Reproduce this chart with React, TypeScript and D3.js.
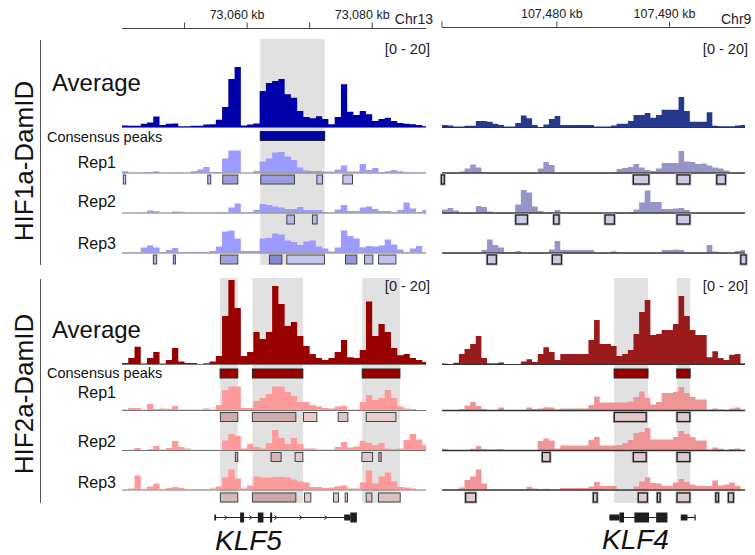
import React, { useRef, useEffect } from "react";
import * as d3 from "d3";

const W = 755;
const H = 555;
const FONT = "'Liberation Sans', Arial, Helvetica, sans-serif";

// genomic windows in kb, binned signal starts at window start
const klf5Window = [73040, 73088.6];
const klf4Window = [107469.8, 107496.7];
const klf5Bin = 1;
const klf4Bin = 0.5;

const klf5Ticks = [73050, 73060, 73070, 73080];
const klf5TickLabels = [73060, 73080];
const klf4Ticks = [107480, 107490];
const klf4TickLabels = [107480, 107490];
const chromNames = ["Chr13", "Chr9"];
const rangeLabel = "[0 - 20]";
const groupNames = ["HIF1a-DamID", "HIF2a-DamID"];
const repNames = ["Rep1", "Rep2", "Rep3"];
const geneNames = ["KLF5", "KLF4"];

// ---- HIF1a signal ----
const hif1Klf5Avg = [0.4, 0.3, 0.3, 0.8, 1.1, 2.6, 0.5, 0.8, 0.9, 0.2, 0.2, 0.3, 0.3, 0.6, 0.7, 1.8, 5, 12, 15, 0.4, 0.6, 0.9, 9, 11, 11.5, 12, 8.2, 7.3, 4, 2.5, 2.2, 2.7, 2, 0.7, 2.5, 10.7, 3.8, 3, 4, 3.2, 1.5, 2, 2.3, 1.5, 1, 0.8, 0.7, 0.5, 0.2];
const hif1Klf5Rep1 = [0.6, 0, 0, 0.1, 0.2, 0.6, 0, 0, 0.1, 0, 0, 0.6, 1.5, 2.7, 0.3, 0.3, 7, 11, 11, 0, 0, 0.7, 5.5, 7, 10, 10.3, 8, 6.3, 2.5, 1, 0.7, 0.7, 0.5, 0.5, 1.5, 3.5, 0.5, 0.5, 4.3, 1.3, 2.3, 0.2, 0.6, 1.2, 0.6, 0.2, 0.1, 0.1, 0.1];
const hif1Klf5Rep2 = [0, 0, 0, 0.1, 1, 0.6, 0, 0, 0.5, 0.4, 0, 0.1, 0.1, 0.1, 0.1, 0.1, 0.1, 2.5, 4.5, 0.1, 0.3, 1.3, 4.3, 3.8, 3, 2.5, 1.8, 1.8, 2.7, 1.3, 1.3, 1.3, 0.3, 0.1, 1.5, 3.8, 0.8, 0.8, 2.5, 3, 1.8, 0.8, 0.8, 0.2, 1.2, 5, 2, 0.3, 1.3];
const hif1Klf5Rep3 = [0.1, 0.1, 0.1, 2.5, 3.5, 2.5, 0.2, 1.2, 2.2, 0.3, 0.3, 0.3, 0.3, 0.3, 0.8, 3, 10.5, 11, 7, 0.7, 0.7, 0.7, 7, 7.2, 9.5, 9, 6, 5.2, 3.8, 5.5, 6, 3, 2, 0.5, 2.5, 11, 8.3, 7, 2.6, 3.2, 3, 3.5, 6.5, 4, 1.5, 0.2, 2, 3.3, 0.1];
const hif1Klf4Avg = [0.5, 0.4, 0.15, 0.15, 0.3, 0.3, 1.5, 1.5, 1.3, 0.8, 0.5, 0.1, 0.1, 1, 2.9, 2.2, 0.5, 0, 0.6, 2, 2.75, 0.5, 0.5, 0.5, 0.5, 0.5, 0.5, 0.1, 0.1, 0.1, 0.4, 0.8, 0.8, 1.5, 3, 3, 3.5, 2.3, 3, 4.3, 4.3, 4.3, 7.5, 4, 1.3, 1.3, 1.3, 3.7, 0.3, 0.2, 0.2, 0.2, 0.4, 0.5];
const hif1Klf4Rep1 = [0.3, 0, 0, 0.5, 2, 4, 2.5, 0.3, 0, 0, 0, 0, 0, 0, 0, 0, 0, 2, 5.2, 3.7, 0, 0, 0, 0, 0, 0, 0, 0, 0, 0, 0.2, 1.8, 2.2, 2.7, 4.2, 2.5, 1.2, 0.7, 2, 4.7, 4.7, 4.7, 10.7, 5.5, 5.2, 4.2, 4.5, 3.5, 2.5, 2, 1, 0, 0, 0];
const hif1Klf4Rep2 = [1.5, 2.2, 1, 0, 0, 0, 3.2, 2.7, 0.5, 0, 0, 0, 0, 4, 11.2, 10, 3, 0.7, 0, 0.3, 1.2, 0, 0, 0, 0, 0, 0, 0, 0, 0, 0, 0, 0, 0.3, 1.5, 5, 11, 5.2, 5.2, 1.7, 1.7, 2, 2.3, 1.2, 0, 0, 0, 0, 0, 0, 0, 0, 0, 0];
const hif1Klf4Rep3 = [0, 0, 0, 0, 0, 0, 0, 1.2, 6.5, 3.7, 2.5, 0.1, 0.3, 0.7, 0, 0, 0, 0, 0, 1.5, 5.7, 1.2, 1.2, 1.2, 1.2, 1.2, 1.2, 0, 0, 0, 0.6, 0.2, 0, 0, 0, 0, 0, 0, 0, 1.2, 1.2, 1.5, 1.2, 0, 0, 0, 0, 3.7, 0.5, 0, 0, 0, 0.8, 1.2];

// ---- HIF2a signal ----
const hif2Klf5Avg = [0.25, 1.5, 4.3, 0.1, 1.5, 3, 0.1, 1, 4, 0.6, 0.25, 0.25, 0, 0.2, 0.6, 2, 12, 21, 14, 2, 3, 8, 6.25, 8, 19.5, 15, 9.5, 10.5, 7, 4.5, 2.5, 1.5, 1, 1.5, 3, 6, 1.7, 1.5, 3.5, 15.6, 7, 10, 8, 4, 2.2, 2.5, 1.5, 1, 0.5];
const hif2Klf5Rep1 = [0.2, 1, 1, 0.1, 3, 0.5, 0.8, 0.6, 2, 0.2, 0.2, 0.2, 0.2, 0.7, 0.3, 2.5, 10, 11.7, 11.7, 1, 1, 4.5, 6, 8, 11.7, 11.7, 9, 7, 4, 4, 2.5, 1.7, 1, 0.8, 1.8, 2, 0.3, 0.3, 4, 7.5, 5, 6, 10, 6, 1.7, 0.8, 0.5, 0, 0];
const hif2Klf5Rep2 = [0, 0.1, 1, 0, 0.5, 2, 0.2, 1, 4.5, 1.5, 0.8, 0.1, 0.1, 0.1, 0.1, 0.1, 4.8, 8, 7, 0.8, 3, 1.5, 0.8, 3.5, 10, 6, 3, 6, 3, 0.8, 0.8, 0.3, 0.3, 0.3, 1.5, 4, 1.2, 1.8, 4.5, 3.5, 2.5, 3.5, 0.8, 0.5, 0.8, 5, 8, 5.3, 2.5];
const hif2Klf5Rep3 = [0, 0.5, 7, 0.1, 1.5, 3, 0.1, 0.8, 1.3, 0.7, 0.1, 0.1, 0.1, 0.1, 0.5, 1.5, 6, 10, 5.5, 0.5, 2, 6.5, 6, 6, 6.3, 6.3, 6, 5, 4, 3.5, 1.3, 1.3, 0.8, 1, 1.6, 2, 0.5, 0.5, 3.5, 9.5, 3, 6.5, 8.5, 4, 1.3, 1, 0.5, 0, 0];
const hif2Klf4Avg = [0.1, 0, 0.3, 2.5, 3.75, 5, 7, 1.5, 0.2, 0.2, 0.4, 0, 0, 0, 0.6, 1.2, 0.5, 2.5, 4.2, 3, 1, 2.5, 2.5, 2.5, 2.5, 2.5, 6, 11, 5, 5, 4.5, 2, 2.5, 3.5, 7.5, 13, 16, 7.25, 7.5, 8.5, 8.5, 10, 17, 12, 8.5, 7.25, 7.25, 1.7, 3.2, 1.5, 1, 2.3, 2.5, 0.2];
const hif2Klf4Rep1 = [0, 0, 0, 0.5, 2.3, 4, 2, 0.4, 0, 0, 1.2, 0, 0, 0, 0, 1.3, 0.5, 0.8, 1.4, 1.2, 0.3, 0.8, 0.8, 0.8, 0.8, 0.8, 2.5, 6.8, 3.8, 3.8, 3.8, 3.8, 3.8, 4.2, 6.5, 9.3, 6, 2.8, 4, 8.5, 8.5, 9, 11.5, 8.5, 6.5, 5.3, 5.3, 0.2, 0.8, 0.3, 0, 0.8, 1.3, 0];
const hif2Klf4Rep2 = [0.6, 0, 0, 0, 0, 0.6, 2, 0.5, 0.2, 0.2, 0.5, 0, 0, 0, 0, 0, 0, 4.5, 5.8, 4.8, 0.8, 2.3, 2.3, 2.3, 2.3, 2.3, 5, 6.5, 2.3, 2.3, 2.3, 2.5, 3.5, 5, 8.5, 9, 11, 5.2, 5.2, 5.2, 5.2, 6.5, 9.5, 8, 6.5, 4.8, 4.8, 0.2, 1.2, 0.6, 0, 0.5, 0.7, 0];
const hif2Klf4Rep3 = [0, 0, 0.3, 1, 4.8, 6.5, 10, 3, 0, 0, 0, 0, 0.2, 0.3, 0.2, 1.2, 0.5, 0.3, 0.4, 0, 0, 0.8, 0.8, 0.8, 0.8, 0.8, 1.5, 3.8, 1.8, 1.8, 1.8, 0, 0, 0, 1.5, 4, 6, 3.3, 3, 1.8, 1.8, 3.5, 5.3, 3.7, 2.5, 1.8, 1.8, 1.8, 4.5, 2, 2.5, 3.5, 1.8, 0];

// ---- called peaks [start kb, end kb, score] ----
const hif1Klf5Peaks = [
  [[73040.21, 73040.59, 0.2], [73053.71, 73054.19, 0.3], [73056.11, 73058.51, 0.6], [73062.19, 73067.57, 0.6], [73071.15, 73072.05, 0.3], [73075.31, 73076.85, 0.2]],
  [[73066.35, 73067.57, 0.35], [73070.45, 73071.2, 0.35]],
  [[73045.01, 73045.55, 0.4], [73048.21, 73048.53, 0.4], [73055.73, 73058.51, 0.55], [73063.57, 73065.55, 0.8], [73066.35, 73072.37, 0.2], [73075.73, 73077.55, 0.65], [73078.77, 73080.11, 0.3], [73081.01, 73083.79, 0.25]],
];
const hif1Klf4Peaks = [
  [[107469.75, 107470.0, 0.3], [107486.79, 107488.16, 0.3], [107490.67, 107491.8, 0.3], [107494.2, 107494.96, 0.3]],
  [[107476.35, 107477.38, 0.3], [107479.72, 107480.19, 0.3], [107484.28, 107485.1, 0.3], [107490.67, 107491.8, 0.3]],
  [[107473.82, 107474.62, 0.3], [107479.6, 107480.4, 0.3], [107496.33, 107496.8, 0.3]],
];
const hif2Klf5Peaks = [
  [[73055.73, 73058.51, 0.6], [73060.85, 73067.79, 0.6], [73069.01, 73071.15, 0.2], [73074.56, 73076.11, 0.3], [73079.04, 73083.79, 0.2]],
  [[73058.13, 73058.51, 0.6], [73063.84, 73065.44, 0.5], [73067.68, 73068.91, 0.25], [73078.35, 73080.05, 0.25], [73081.07, 73081.44, 0.6]],
  [[73055.73, 73058.51, 0.45], [73060.85, 73067.79, 0.65], [73069.17, 73070.19, 0.2], [73073.81, 73074.61, 0.25], [73075.68, 73076.05, 0.3], [73079.04, 73079.95, 0.35], [73081.01, 73084.48, 0.35]],
];
const hif2Klf4Peaks = [
  [[107485.1, 107487.92, 0.3], [107490.67, 107491.8, 0.3]],
  [[107478.71, 107479.39, 0.3], [107486.79, 107487.92, 0.3], [107490.67, 107491.8, 0.3]],
  [[107471.9, 107472.79, 0.3], [107483.24, 107483.57, 0.3], [107487.23, 107488.03, 0.3], [107488.92, 107489.16, 0.3], [107490.67, 107491.8, 0.3], [107494.11, 107494.34, 0.3], [107495.23, 107495.67, 0.3]],
];

// consensus peaks (also shaded)
const hif1Klf5Consensus = [[73062.1, 73072.4]];
const hif1Klf4Consensus: number[][] = [];
const hif2Klf5Consensus = [[73055.68, 73058.51], [73060.85, 73068.91], [73078.4, 73084.43]];
const hif2Klf4Consensus = [[107485.08, 107488.09], [107490.64, 107491.83]];

// gene models: exons [start kb, end kb, coding 1 / utr 0]
const klf5Span = [73054.77, 73077.55];
const klf5Exons = [[73054.77, 73055.04, 0], [73058.88, 73059.52, 1], [73061.71, 73062.61, 1], [73063.68, 73064.0, 1], [73075.52, 73076.5, 0], [73076.5, 73077.55, 1]];
const klf4Spans = [[107484.66, 107489.81], [107491.0, 107492.27]];
const klf4Exons = [[107484.66, 107485.55, 0], [107485.55, 107485.96, 1], [107486.88, 107488.18, 1], [107488.81, 107489.81, 1], [107491.0, 107491.59, 0]];

export default function App() {
  const svgRef = useRef<SVGSVGElement>(null);

  useEffect(() => {
    if (!svgRef.current) return;
    const svg = d3.select(svgRef.current);
    svg.selectAll("*").remove();

    const panels = [
      { window: klf5Window, range: [122, 426], bin: klf5Bin, ticks: klf5Ticks, tickLabels: klf5TickLabels, axisY: 28.5, labelDx: -10, endCap: false },
      { window: klf4Window, range: [442, 745], bin: klf4Bin, ticks: klf4Ticks, tickLabels: klf4TickLabels, axisY: 27.5, labelDx: -5, endCap: true },
    ].map((p) => ({ ...p, x: d3.scaleLinear().domain(p.window).range(p.range) }));

    const groups = [
      {
        name: groupNames[0], top: 39, bottom: 265, labelY: 161,
        avgBase: 127, avgLabelY: 91, consY: 131.5, consLabelY: 142, rangeY: 54,
        repBase: [172.5, 212.5, 252.5], repLabelY: [168, 207, 249], boxY: [175, 215, 255],
        avg: [hif1Klf5Avg, hif1Klf4Avg],
        reps: [[hif1Klf5Rep1, hif1Klf5Rep2, hif1Klf5Rep3], [hif1Klf4Rep1, hif1Klf4Rep2, hif1Klf4Rep3]],
        peaks: [hif1Klf5Peaks, hif1Klf4Peaks],
        consensus: [hif1Klf5Consensus, hif1Klf4Consensus],
        shade: [true, false],
        avgColor: ["#0000aa", "#27398c"], repColor: ["#9c9cff", "#9595c8"],
        boxLo: ["#dcdcf8", "#cbcbe8"], boxHi: ["#7070d0", "#cbcbe8"],
      },
      {
        name: groupNames[1], top: 278, bottom: 503, labelY: 394,
        avgBase: 364, avgLabelY: 338, consY: 369, consLabelY: 378, rangeY: 291,
        repBase: [410, 450, 489.5], repLabelY: [398, 447, 488], boxY: [412.5, 452.5, 493],
        avg: [hif2Klf5Avg, hif2Klf4Avg],
        reps: [[hif2Klf5Rep1, hif2Klf5Rep2, hif2Klf5Rep3], [hif2Klf4Rep1, hif2Klf4Rep2, hif2Klf4Rep3]],
        peaks: [hif2Klf5Peaks, hif2Klf4Peaks],
        consensus: [hif2Klf5Consensus, hif2Klf4Consensus],
        shade: [true, true],
        avgColor: ["#990000", "#9a1b1b"], repColor: ["#ff9a9a", "#ef9598"],
        boxLo: ["#eedcdc", "#dfc9c9"], boxHi: ["#b98c8c", "#dfc9c9"],
      },
    ];

    const avgY = d3.scaleLinear().domain([0, 20]).range([0, 80]);
    const repY = d3.scaleLinear().domain([0, 20]).range([0, 40]);

    // Genome axes
    panels.forEach((p, pi) => {
      const ax = svg.append("g").attr("transform", `translate(0,${p.axisY})`);
      ax.append("line").attr("x1", p.range[0]).attr("x2", p.range[1])
        .attr("stroke", "#444").attr("stroke-width", 1);
      ax.selectAll(".tick").data(p.ticks).enter().append("line")
        .attr("x1", (d: number) => p.x(d)).attr("x2", (d: number) => p.x(d))
        .attr("y1", -6).attr("y2", 0).attr("stroke", "#444");
      if (p.endCap) {
        ax.append("line").attr("x1", p.range[0]).attr("x2", p.range[0])
          .attr("y1", -6).attr("y2", 0).attr("stroke", "#444");
      }
      ax.selectAll(".lab").data(p.tickLabels).enter().append("text")
        .attr("x", (d: number) => p.x(d) + p.labelDx).attr("y", -10)
        .attr("text-anchor", "middle").attr("font-family", FONT).attr("font-size", 12.5)
        .attr("fill", "#222").text((d: number) => `${d3.format(",")(d)} kb`);
      svg.append("text")
        .attr("x", pi === 0 ? 433 : 721).attr("y", 24)
        .attr("text-anchor", pi === 0 ? "end" : "start")
        .attr("font-family", FONT).attr("font-size", 14).attr("fill", "#222")
        .text(chromNames[pi]);
    });

    groups.forEach((g) => {
      // group label + bracket line
      svg.append("line").attr("x1", 40.5).attr("x2", 40.5).attr("y1", g.top + 1).attr("y2", g.bottom)
        .attr("stroke", "#555").attr("stroke-width", 1);
      svg.append("text").attr("transform", `translate(33,${g.labelY}) rotate(-90)`)
        .attr("text-anchor", "middle").attr("font-family", FONT).attr("font-size", 26)
        .attr("fill", "#111").text(g.name);
      svg.append("text").attr("x", 52).attr("y", g.avgLabelY)
        .attr("font-family", FONT).attr("font-size", 24).attr("fill", "#111").text("Average");
      svg.append("text").attr("x", 47).attr("y", g.consLabelY)
        .attr("font-family", FONT).attr("font-size", 14.5).attr("fill", "#111").text("Consensus peaks");
      repNames.forEach((r, ri) => {
        svg.append("text").attr("x", 116).attr("y", g.repLabelY[ri]).attr("text-anchor", "end")
          .attr("font-family", FONT).attr("font-size", 16).attr("fill", "#111").text(r);
      });

      panels.forEach((p, pi) => {
        const x = p.x;
        const layer = svg.append("g");

        // shaded consensus regions
        if (g.shade[pi]) {
          layer.selectAll(".shade").data(g.consensus[pi]).enter().append("rect")
            .attr("x", (d: number[]) => x(d[0])).attr("width", (d: number[]) => x(d[1]) - x(d[0]))
            .attr("y", g.top).attr("height", g.bottom - g.top).attr("fill", "#e1e1e1");
        }

        const stepPath = (values: number[], base: number, ys: d3.ScaleLinear<number, number>) => {
          const pts = values.concat([values[values.length - 1]]);
          return d3.area<number>()
            .x((_d, i) => x(Math.min(p.window[0] + i * p.bin, p.window[1])))
            .y0(base)
            .y1((d) => base - ys(d))
            .curve(d3.curveStepAfter)(pts);
        };

        // average track
        layer.append("path").attr("d", stepPath(g.avg[pi], g.avgBase, avgY)).attr("fill", g.avgColor[pi]);
        layer.append("line").attr("x1", p.range[0]).attr("x2", p.range[1])
          .attr("y1", g.avgBase + 0.5).attr("y2", g.avgBase + 0.5)
          .attr("stroke", pi === 0 ? "#555" : "#333").attr("stroke-width", pi === 0 ? 0.8 : 1.2);
        layer.append("text").attr("x", pi === 0 ? 430 : 748).attr("y", g.rangeY).attr("text-anchor", "end")
          .attr("font-family", FONT).attr("font-size", 14.5).attr("fill", "#222").text(rangeLabel);

        // consensus bars
        layer.selectAll(".cons").data(g.consensus[pi]).enter().append("rect")
          .attr("x", (d: number[]) => x(d[0])).attr("width", (d: number[]) => x(d[1]) - x(d[0]))
          .attr("y", g.consY).attr("height", 9)
          .attr("fill", g.avgColor[0]).attr("stroke", "#222").attr("stroke-width", 1);

        // replicate tracks
        const boxColor = d3.scaleLinear<string>().domain([0, 1]).range([g.boxLo[pi], g.boxHi[pi]])
          .interpolate(d3.interpolateRgb);
        g.reps[pi].forEach((vals, ri) => {
          const base = g.repBase[ri];
          layer.append("path").attr("d", stepPath(vals, base, repY)).attr("fill", g.repColor[pi]);
          layer.append("line").attr("x1", p.range[0]).attr("x2", p.range[1])
            .attr("y1", base + 0.5).attr("y2", base + 0.5)
            .attr("stroke", pi === 0 ? "#777" : "#333").attr("stroke-width", pi === 0 ? 1 : 1.4);

          const boxes = layer.selectAll(`.box${ri}`).data(g.peaks[pi][ri]).enter();
          if (pi === 1) {
            boxes.append("rect")
              .attr("x", (d: number[]) => x(d[0])).attr("width", (d: number[]) => Math.max(2, x(d[1]) - x(d[0])))
              .attr("y", g.boxY[ri]).attr("height", 9)
              .attr("fill", "none").attr("stroke", "#b0b0b0").attr("stroke-width", 3);
          }
          layer.selectAll(`.boxf${ri}`).data(g.peaks[pi][ri]).enter().append("rect")
            .attr("x", (d: number[]) => x(d[0])).attr("width", (d: number[]) => Math.max(2, x(d[1]) - x(d[0])))
            .attr("y", g.boxY[ri]).attr("height", 9)
            .attr("fill", (d: number[]) => boxColor(d[2]))
            .attr("stroke", pi === 0 ? "#444" : "#222").attr("stroke-width", pi === 0 ? 1 : 1.3);
        });
      });
    });

    // gene models
    const geneY = 517.5;
    const drawGene = (x: d3.ScaleLinear<number, number>, spans: number[][], exons: number[][], arrows: boolean) => {
      const gg = svg.append("g");
      spans.forEach((s) => {
        gg.append("line").attr("x1", x(s[0])).attr("x2", x(s[1])).attr("y1", geneY).attr("y2", geneY)
          .attr("stroke", "#222").attr("stroke-width", 1.2);
        if (arrows) {
          const x0 = x(s[0]);
          const x1 = x(s[1]);
          for (let px = x0 + 12; px < x1 - 6; px += 25) {
            const inExon = exons.some((e) => px > x(e[0]) - 3 && px < x(e[1]) + 3);
            if (inExon) continue;
            gg.append("path").attr("d", `M${px - 2},${geneY - 2.2}L${px + 0.5},${geneY}L${px - 2},${geneY + 2.2}`)
              .attr("fill", "none").attr("stroke", "#222").attr("stroke-width", 1);
          }
        }
      });
      gg.selectAll(".ex").data(exons).enter().append("rect")
        .attr("x", (d: number[]) => x(d[0])).attr("width", (d: number[]) => Math.max(1.5, x(d[1]) - x(d[0])))
        .attr("y", (d: number[]) => geneY - (d[2] ? 5 : 3))
        .attr("height", (d: number[]) => (d[2] ? 10 : 6))
        .attr("fill", "#1e1e1e");
    };
    drawGene(panels[0].x, [klf5Span], klf5Exons, true);
    drawGene(panels[1].x, klf4Spans, klf4Exons, false);
    const last = klf4Spans[1][1];
    svg.append("line").attr("x1", panels[1].x(last)).attr("x2", panels[1].x(last))
      .attr("y1", geneY - 3).attr("y2", geneY + 3).attr("stroke", "#222").attr("stroke-width", 1.2);

    svg.append("text").attr("x", 215).attr("y", 550).attr("font-family", FONT).attr("font-style", "italic")
      .attr("font-size", 28).attr("fill", "#111").text(geneNames[0]);
    svg.append("text").attr("x", 602).attr("y", 549).attr("font-family", FONT).attr("font-style", "italic")
      .attr("font-size", 28).attr("fill", "#111").text(geneNames[1]);
  }, []);

  return (
    <svg
      ref={svgRef}
      width={W}
      height={H}
      style={{ position: "absolute", left: 0, top: 0, background: "#fff", display: "block" }}
    />
  );
}
